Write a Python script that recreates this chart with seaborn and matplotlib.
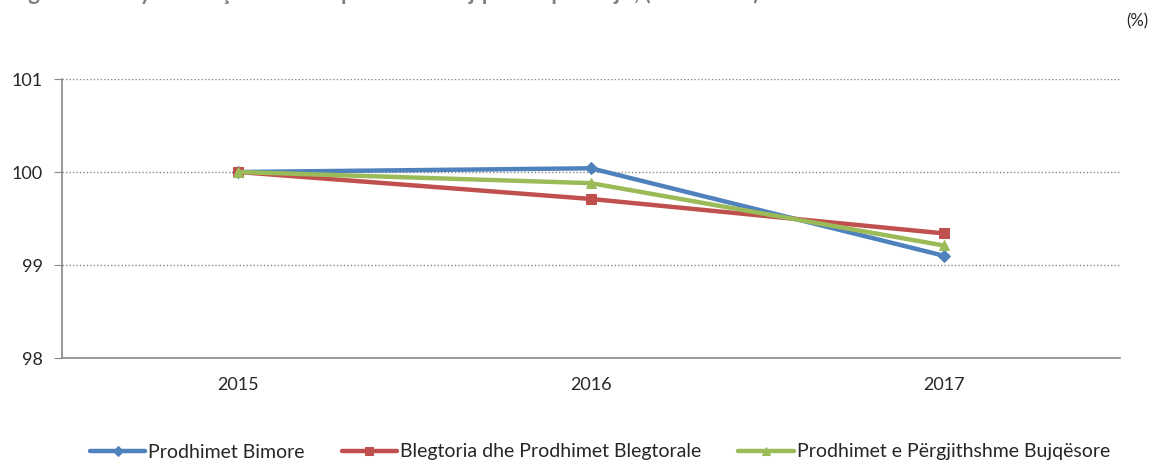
import pandas as pd
import matplotlib.pyplot as plt
import seaborn as sns

years = ["2015", "2016", "2017"]
bimore = [100.0, 100.04, 99.10]
blegtoria = [100.0, 99.71, 99.34]
gjithsej = [100.0, 99.88, 99.21]
series_names = ["Prodhimet Bimore", "Blegtoria dhe Prodhimet Blegtorale",
                "Prodhimet e Përgjithshme Bujqësore"]
y_ticks = [98, 99, 100, 101]

df = pd.DataFrame({"year": years * 3,
                   "value": bimore + blegtoria + gjithsej,
                   "series": [series_names[0]] * 3 + [series_names[1]] * 3 + [series_names[2]] * 3})
df["x"] = df["year"].map({y: i for i, y in enumerate(years)})

sns.set_style("white")
plt.rcParams['font.family'] = ['Lato', 'DejaVu Sans']

colors = ["#4F81BD", "#C0504D", "#9BBB59"]
markers = ["D", "s", "^"]

fig = plt.figure(figsize=(11.53, 4.61), dpi=100)
ax = fig.add_axes([62 / 1153, 1 - 358 / 461, (1120 - 62) / 1153, (358 - 79) / 461])

for name, c, m in zip(series_names, colors, markers):
    sub = df[df["series"] == name]
    sns.lineplot(data=sub, x="x", y="value", color=c, marker=m, markersize=6 if m == "D" else 7,
                 markeredgecolor=c, linewidth=3.2, label=name, ax=ax)

ax.set_xlim(-0.5, 2.5)
ax.set_ylim(98, 101)
ax.set_yticks(y_ticks)
ax.set_yticklabels([str(t) for t in y_ticks], fontsize=13)
ax.set_xticks([0, 1, 2])
ax.set_xticklabels(years, fontsize=13)
ax.set_xticks([-0.5, 0.5, 1.5, 2.5], minor=True)
ax.tick_params(axis="x", which="major", length=0, pad=14)
ax.tick_params(axis="x", which="minor", length=6, color="#888888", direction="out")
ax.tick_params(axis="y", length=6, color="#888888", direction="out", left=True, pad=8)
ax.set_xlabel("")
ax.set_ylabel("")

for y in [99, 100, 101]:
    ax.axhline(y, color="#888888", linestyle=(0, (1, 1.5)), linewidth=1, zorder=0)

for s in ["top", "right"]:
    ax.spines[s].set_visible(False)
ax.spines["left"].set_color("#888888")
ax.spines["bottom"].set_color("#888888")
ax.spines["left"].set_linewidth(1.2)
ax.spines["bottom"].set_linewidth(1.2)

ax.legend(loc="center left", bbox_to_anchor=(28 / 1058, -94 / 279), ncol=3, frameon=False,
          fontsize=14, handlelength=2.85, handletextpad=0.15, columnspacing=1.9,
          markerscale=0.8, borderaxespad=0, borderpad=0)

fig.text(1153 - 5, 461 - 21, "(%)", transform=None, ha="right", va="center", fontsize=12)
fig.text(10, 461 + 0.5, "Figura 5: Ndryshimi i çmimeve të prodhimit bujqësor sipas llojit, (2015=100)",
         transform=None, ha="left", va="baseline", fontsize=16, fontweight="bold", color="#7F7F7F")

fig.savefig("out.png", dpi=100)
